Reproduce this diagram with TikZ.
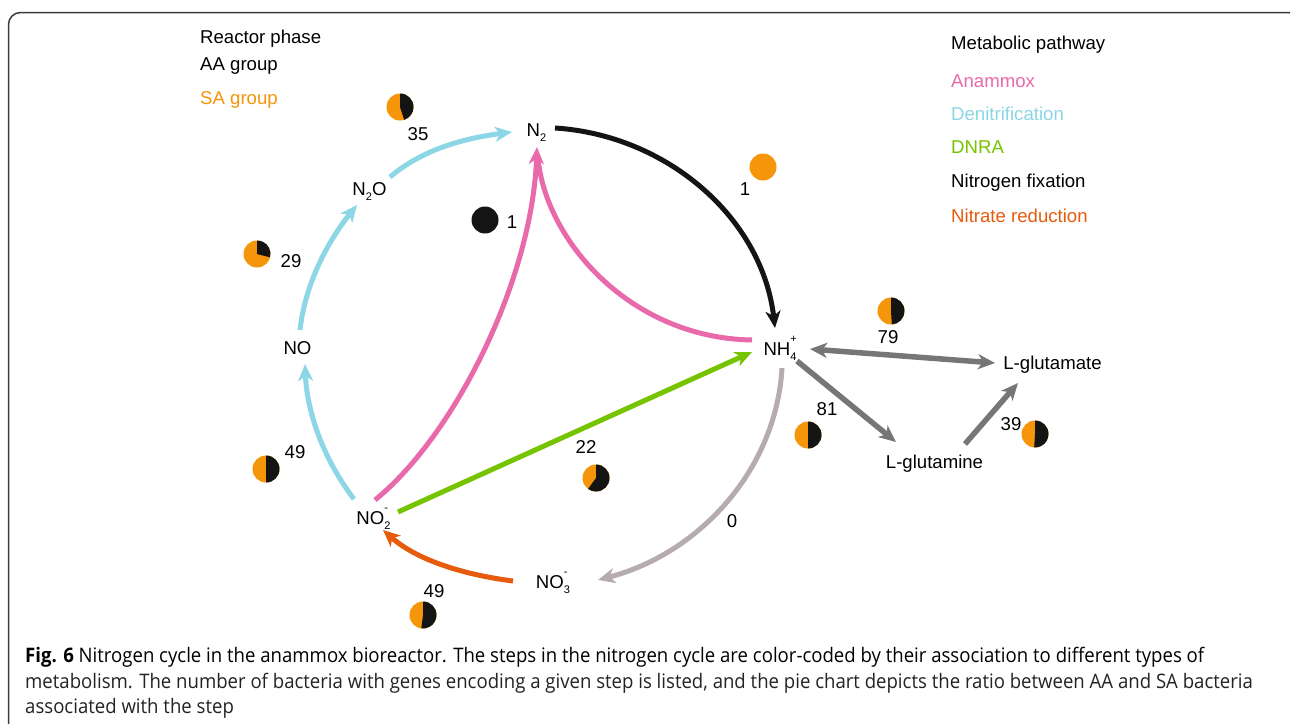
\documentclass[tikz,border=0pt]{standalone}
\usepackage{fontspec}
\setmainfont{Liberation Sans}
\newfontfamily\capfont{Open Sans}
\usetikzlibrary{arrows.meta,calc}

\definecolor{cDen}{RGB}{140,214,229}
\definecolor{cAna}{RGB}{232,106,170}
\definecolor{cDNRA}{RGB}{118,196,0}
\definecolor{cFix}{RGB}{20,20,20}
\definecolor{cNit}{RGB}{230,92,12}
\definecolor{cSA}{RGB}{245,150,10}
\definecolor{cGlu}{RGB}{118,118,118}
\definecolor{cNH}{RGB}{182,172,174}
\definecolor{cFrame}{RGB}{60,60,60}
\definecolor{cCap}{RGB}{35,35,35}

\newcommand{\chsub}[1]{\raisebox{-5.5pt}{\fontsize{11}{11}\selectfont #1}}
\newcommand{\chsup}[1]{\raisebox{13pt}{\fontsize{11}{11}\selectfont #1}}
\newcommand{\subsup}[2]{\rlap{\chsup{#2}}\chsub{#1}}
\newcommand{\piechart}[3]{%
  \begin{scope}[shift={(#1,#2)},yscale=-1]
    \fill[cSA] (0,0) circle[radius=13.5];
    \fill[cFix] (0,0) -- (90:13.5) arc[start angle=90,end angle={90-360*#3},radius=13.5] -- cycle;
  \end{scope}}
\newsavebox{\caponebox}

\tikzset{
  txt/.style={inner sep=0pt, font=\fontsize{18.6}{22}\selectfont},
  chem/.style={txt, anchor=base},
  lab/.style={txt, anchor=base},
  leg/.style={txt, anchor=base west},
  flow/.style={line width=5pt, -{Stealth[length=17pt,width=15pt,inset=5pt]}},
  flowplain/.style={line width=5pt},
  gflow/.style={line width=5.5pt, cGlu, -{Stealth[length=17pt,width=15pt,inset=5pt]}},
  gboth/.style={line width=5.5pt, cGlu, {Stealth[length=17pt,width=15pt,inset=5pt]}-{Stealth[length=17pt,width=15pt,inset=5pt]}},
  capline/.style={inner sep=0pt, anchor=base west, text=cCap},
}

\begin{document}
\sbox{\caponebox}{\capfont\fontsize{20}{24}\selectfont\textbf{Fig. 6} Nitrogen cycle in the anammox bioreactor. The steps in the nitrogen cycle are color-coded by their association to different types of}%
\pgfmathsetmacro{\capsx}{1179/\the\wd\caponebox}%
\begin{tikzpicture}[x=1pt,y=-1pt]
\useasboundingbox (0,0) rectangle (1290,723);
\clip (0,0) rectangle (1290,723);
\fill[white] (0,0) rectangle (1290,723);
\draw[cFrame, line width=1.5pt, rounded corners=12pt] (8.5,760) -- (8.5,12.5) -- (1300,12.5) -- (1300,760);

% legends
\node[leg] (rp) at (200,43) {Reactor phase};
\node[leg] (aa) at (200,70) {AA group};
\node[leg, text=cSA] (sa) at (200,104) {SA group};
\node[leg] (mp) at (951,49) {Metabolic pathway};
\node[leg, text=cAna] (lana) at (951,87) {Anammox};
\node[leg, text=cDen] (lden) at (951,120) {Denitrification};
\node[leg, text=cDNRA] (ldnra) at (951,153) {DNRA};
\node[leg] (lfix) at (951,187) {Nitrogen fixation};
\node[leg, text=cNit] (lnit) at (951,222) {Nitrate reduction};

% chemical nodes
\node[chem] (n2) at (536.5,136) {N\chsub{2}};
\node[chem] (n2o) at (369.5,195) {N\chsub{2}O};
\node[chem] (no) at (297.5,354) {NO};
\node[chem] (no2) at (373.5,524) {NO\subsup{2}{-}};
\node[chem] (no3) at (553,588) {NO\subsup{3}{-}};
\node[chem] (nh4) at (780,355) {NH\subsup{4}{+}};
\node[chem] (glu) at (1052.5,369) {L-glutamate};
\node[chem] (gln) at (934.5,468) {L-glutamine};

% denitrification
\draw[flow, cDen] ($(n2o.base)+(20.5,-18)$) .. controls (424,148) and (467,138) .. ($(n2.base)+(-24.5,-4)$);
\draw[flow, cDen] ($(no.base)+(2.5,-24)$) .. controls (305,284) and (328,241) .. ($(n2o.base)+(-12.5,10)$);
\draw[flow, cDen] ($(no2.base)+(-19.5,-25)$) .. controls (324,460) and (307,413) .. ($(no.base)+(7.5,10)$);

% nitrogen fixation
\draw[flow, cFix] ($(n2.base)+(18.5,-8)$) .. controls (666,135) and (762,217) .. ($(nh4.base)+(-5,-27)$);

% anammox
\draw[flowplain, cAna, shorten >=10pt] ($(nh4.base)+(-28,-15)$) .. controls (630,338) and (545,240) .. ($(n2.base)+(0.5,11)$);
\draw[flow, cAna] ($(no2.base)+(1.5,-24)$) .. controls (455,435) and (532,280) .. ($(n2.base)+(0.5,11)$);

% DNRA
\draw[flow, cDNRA] ($(no2.base)+(24.5,-12)$) -- ($(nh4.base)+(-28,-3)$);

% NH4 -> NO3
\draw[flow, cNH] ($(nh4.base)+(2,13)$) .. controls (776,471) and (698,554) .. ($(no3.base)+(45,-8)$);

% nitrate reduction
\draw[flow, cNit] ($(no3.base)+(-40,-7)$) .. controls (466,575) and (418,561) .. ($(no2.base)+(9.5,6)$);

% glutamate/glutamine
\draw[gboth] ($(nh4.base)+(30,-6)$) -- ($(glu.base)+(-57.5,-6)$);
\draw[gflow] ($(nh4.base)+(17,6)$) -- ($(gln.base)+(-38.5,-26)$);
\draw[gflow] ($(gln.base)+(30.5,-24)$) -- ($(glu.base)+(-34.5,14)$);

% counts
\node[lab] (c35) at (418,140) {35};
\node[lab] (c29) at (291,267) {29};
\node[lab] (c1a) at (512,228) {1};
\node[lab] (c1b) at (745,195) {1};
\node[lab] (c79) at (888,343) {79};
\node[lab] (c81) at (827,415) {81};
\node[lab] (c39) at (1011,430) {39};
\node[lab] (c49a) at (295,458) {49};
\node[lab] (c22) at (586,453) {22};
\node[lab] (c0) at (732,527) {0};
\node[lab] (c49b) at (434,597) {49};

% pies
\piechart{400}{107}{0.45}
\piechart{257}{254}{0.29}
\fill[cFix] (485,220) circle[radius=13.5];
\fill[cSA] (763,167) circle[radius=13.5];
\piechart{891}{311}{0.49}
\piechart{808}{435}{0.5}
\piechart{1035}{434}{0.51}
\piechart{266}{469}{0.5}
\piechart{596}{478}{0.6}
\piechart{423}{615}{0.52}

% caption
\node[capline] (cap1) at (25,662) {\scalebox{\capsx}[1]{\usebox{\caponebox}}};
\node[capline] (cap2) at (25,688) {\scalebox{\capsx}[1]{\capfont\fontsize{20}{24}\selectfont metabolism. The number of bacteria with genes encoding a given step is listed, and the pie chart depicts the ratio between AA and SA bacteria}};
\node[capline] (cap3) at (25,713) {\scalebox{\capsx}[1]{\capfont\fontsize{20}{24}\selectfont associated with the step}};
\end{tikzpicture}
\end{document}
